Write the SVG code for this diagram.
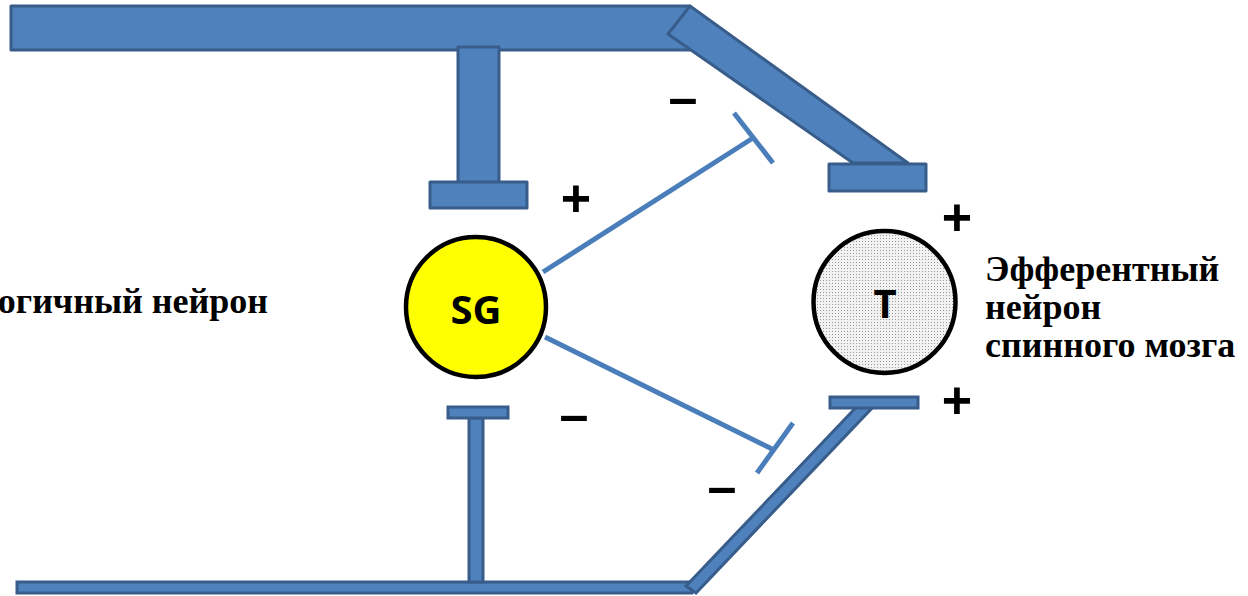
<svg xmlns="http://www.w3.org/2000/svg" width="1248" height="596" viewBox="0 0 1248 596">
  <defs>
    <pattern id="dots" width="3" height="3" patternUnits="userSpaceOnUse">
      <rect width="3" height="3" fill="#f2f2f2"/>
      <rect x="1" y="1" width="1" height="1" fill="#9a9a9a"/>
    </pattern>
    <style>
      .bar { fill: #4F81BD; stroke: #385D8A; stroke-width: 3; stroke-linejoin: round; }
      .thin { fill: #4F81BD; stroke: #385D8A; stroke-width: 3; stroke-linejoin: miter; }
      .conn { stroke: #4A7EBB; stroke-width: 5; fill: none; }
      .cell { stroke: #000; stroke-width: 4.5; }
      .cellText { font-family: "Open Sans", "Noto Sans", sans-serif; font-weight: bold; font-size: 40px; fill: #000; text-anchor: middle; }
      .sign { font-family: "Liberation Sans", Arial, sans-serif; font-weight: bold; font-size: 52px; fill: #000; text-anchor: middle; }
      .label { font-family: "Liberation Serif", "Times New Roman", serif; font-weight: bold; font-size: 36px; fill: #000; }
    </style>
  </defs>
  <rect width="1248" height="596" fill="#fff"/>

  <g id="pathways">
    <!-- top structure -->
    <rect class="bar" x="11" y="6" width="679" height="44"/>
    <polygon class="bar" points="690,6 908,163 853,163 668,34"/>
    <rect class="bar" x="829" y="164" width="97" height="27"/>
    <rect class="bar" x="458" y="47" width="41" height="136"/>
    <rect class="bar" x="430" y="182" width="97" height="26"/>
    <!-- bottom structure -->
    <rect class="thin" x="17" y="582" width="675" height="11"/>
    <polygon class="thin" points="686,586 864,399 873,407 696,593"/>
    <rect class="thin" x="830" y="397" width="88" height="11"/>
    <rect class="thin" x="469" y="418" width="14" height="164"/>
    <rect class="thin" x="448" y="407" width="60" height="11"/>
  </g>

  <g id="connectors">
    <line class="conn" x1="543" y1="272" x2="753" y2="138"/>
    <line class="conn" x1="734" y1="113" x2="773" y2="163"/>
    <line class="conn" x1="545" y1="337" x2="772" y2="449"/>
    <line class="conn" x1="793" y1="423" x2="757" y2="473"/>
  </g>

  <g id="node-SG">
    <circle class="cell" cx="476" cy="307" r="70" fill="#FFFF00"/>
    <text class="cellText" x="476" y="324">SG</text>
  </g>

  <g id="node-T">
    <circle class="cell" cx="884.5" cy="302" r="71" fill="url(#dots)"/>
    <text class="cellText" x="885" y="318">T</text>
  </g>

  <g id="signs">
    <text class="sign" x="576" y="216">+</text>
    <text class="sign" x="957" y="235">+</text>
    <text class="sign" x="957" y="418">+</text>
    <text class="sign" x="683" y="115">–</text>
    <text class="sign" x="574" y="432">–</text>
    <text class="sign" x="722" y="504">–</text>
  </g>

  <g id="label-left">
    <text class="label" x="268" y="313" text-anchor="end">огичный нейрон</text>
  </g>
  <g id="label-right">
    <text class="label" x="985" y="281">Эфферентный</text>
    <text class="label" x="985" y="319">нейрон</text>
    <text class="label" x="985" y="357">спинного мозга</text>
  </g>
</svg>
